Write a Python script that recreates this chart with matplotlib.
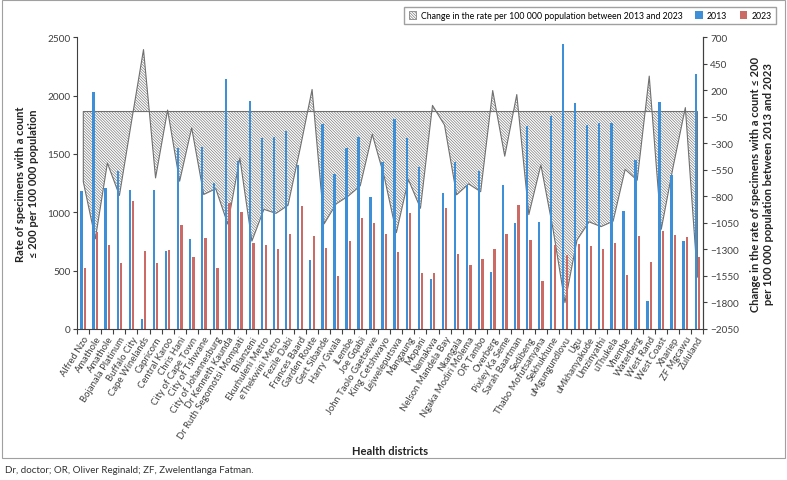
import matplotlib

matplotlib.use("Agg")
import matplotlib.pyplot as plt  # noqa: E402
import numpy as np  # noqa: E402
from matplotlib.patches import Patch, Rectangle  # noqa: E402

plt.rcParams.update(
    {
        "font.family": ["Lato", "DejaVu Sans"],
        "font.size": 7,
        "hatch.linewidth": 0.45,
        "axes.linewidth": 0.8,
        "axes.edgecolor": "#404040",
        "xtick.color": "#404040",
        "ytick.color": "#404040",
        "xtick.labelcolor": "#404040",
        "ytick.labelcolor": "#404040",
    }
)

districts = [
    "Alfred Nzo", "Amathole", "Amathole", "Bojanala Platinum", "Buffalo City",
    "Cape Winelands", "Capricorn", "Central Karoo", "Chris Hani", "City of Cape Town",
    "City of Tshwane", "City of Johannesburg", "Dr Kenneth Kaunda",
    "Dr Ruth Segomotsi Mompati", "Ehlanzeni", "Ekurhuleni Metro", "eThekwini Metro",
    "Fezile Dabi", "Frances Baard", "Garden Route", "Gert Sibande", "Harry Gwala",
    "iLembe", "Joe Gqabi", "John Taolo Gaetsewe", "King Cetshwayo", "Lejweleputswa",
    "Mangaung", "Mopani", "Namakwa", "Nelson Mandela Bay", "Nkangala",
    "Ngaka Modiri Molema", "OR Tambo", "Overberg", "Pixley Ka Seme", "Sarah Baartman",
    "Sedibeng", "Thabo Mofutsanyana", "Sekhukhune", "uMgungundlovu", "Ugu",
    "uMkhanyakude", "Umzinyathi", "uThukela", "Vhembe", "Waterberg", "West Rand",
    "West Coast", "Xhariep", "ZF Mgcawu", "Zululand",
]

rate_2013 = [
    1186, 2034, 1206, 1355, 1191, 82, 1191, 666, 1548, 768, 1559, 1251, 2143,
    1440, 1957, 1638, 1649, 1695, 1404, 591, 1756, 1328, 1551, 1648, 1127, 1435,
    1800, 1636, 1392, 425, 1164, 1428, 1234, 1354, 486, 1232, 904, 1736, 914,
    1824, 2439, 1937, 1751, 1768, 1768, 1011, 1448, 240, 1947, 1318, 751, 2182,
]
rate_2023 = [
    524, 834, 720, 564, 1095, 666, 565, 680, 891, 614, 777, 523, 1082, 1002,
    735, 716, 689, 811, 1051, 799, 697, 457, 754, 948, 912, 817, 658, 994, 480,
    483, 1036, 643, 552, 598, 684, 811, 1064, 764, 411, 721, 637, 725, 711, 683,
    734, 466, 800, 574, 837, 806, 788, 620,
]

BLUE = "#3d8fd8"
RED = "#cc6a66"
GREY = "#707070"
HATCH = "\\" * 12

x = np.arange(len(districts))
change = np.array(rate_2023) - np.array(rate_2013)

fig = plt.figure(figsize=(7.87, 4.81), dpi=100)
ax = fig.add_axes((0.0982, 0.314, 0.7956, 0.6064))
ax2 = ax.twinx()

# change curve sits behind the bars
ax2.fill_between(x, change, 0, facecolor="none", edgecolor=GREY, hatch=HATCH, linewidth=0.8)
ax2.set_ylim(-2050, 700)
ax2.set_yticks(np.arange(-2050, 701, 250))
ax2.tick_params(axis="y", length=3, width=0.8, labelsize=7.2, pad=2)

ax.set_zorder(ax2.get_zorder() + 1)
ax.patch.set_visible(False)
w = 0.19
ax.bar(x - 0.145, rate_2013, width=w, color=BLUE)
ax.bar(x + 0.145, rate_2023, width=w, color=RED)
ax.set_ylim(0, 2500)
ax.set_xlim(-0.5, len(districts) - 0.5)
ax.set_yticks(np.arange(0, 2501, 500))
ax.tick_params(axis="y", length=3, width=0.8, labelsize=7.2, pad=2)
ax.set_xticks(x, districts, rotation=58, ha="right", rotation_mode="anchor", fontsize=6.8)
ax.tick_params(axis="x", length=0, pad=4)
ax.set_xticks(np.arange(-0.5, len(districts)), minor=True)
ax.tick_params(axis="x", which="minor", length=3.5, width=0.8)

for a in (ax, ax2):
    a.spines["top"].set_visible(False)
ax2.spines["left"].set_visible(False)
ax2.spines["bottom"].set_visible(False)

bold = dict(fontsize=8, fontweight="bold", color="#222222")
ax.set_ylabel("Rate of specimens with a count\n≤ 200 per 100 000 population", labelpad=6, **bold)
ax2.set_ylabel(
    "Change in the rate of specimens with a count ≤ 200\nper 100 000 population between 2013 and 2023",
    labelpad=8, **bold,
)
fig.text(0.496, 0.062, "Health districts", ha="center", va="center", **bold)
fig.text(0.006, 0.022, "Dr, doctor; OR, Oliver Reginald; ZF, Zwelentlanga Fatman.",
         fontsize=7, color="#333333", va="center")

handles = [
    Patch(facecolor="white", edgecolor=GREY, hatch=HATCH, linewidth=0.5,
          label="Change in the rate per 100 000 population between 2013 and 2023"),
    Patch(facecolor=BLUE, label="2013"),
    Patch(facecolor=RED, label="2023"),
]
fig.legend(
    handles=handles, ncol=3, loc="upper right", bbox_to_anchor=(0.992, 0.993),
    fancybox=False, edgecolor="#a0a0a0", framealpha=1, fontsize=6.3,
    handlelength=0.9, handleheight=0.9, columnspacing=1.4, handletextpad=0.5,
    borderpad=0.5,
)

# thin frame round the figure panel
fig.patches.append(Rectangle((0.002, 0.045), 0.996, 0.953, transform=fig.transFigure,
                             fill=False, edgecolor="#a0a0a0", linewidth=0.8))

fig.savefig("out.png", dpi=100)
